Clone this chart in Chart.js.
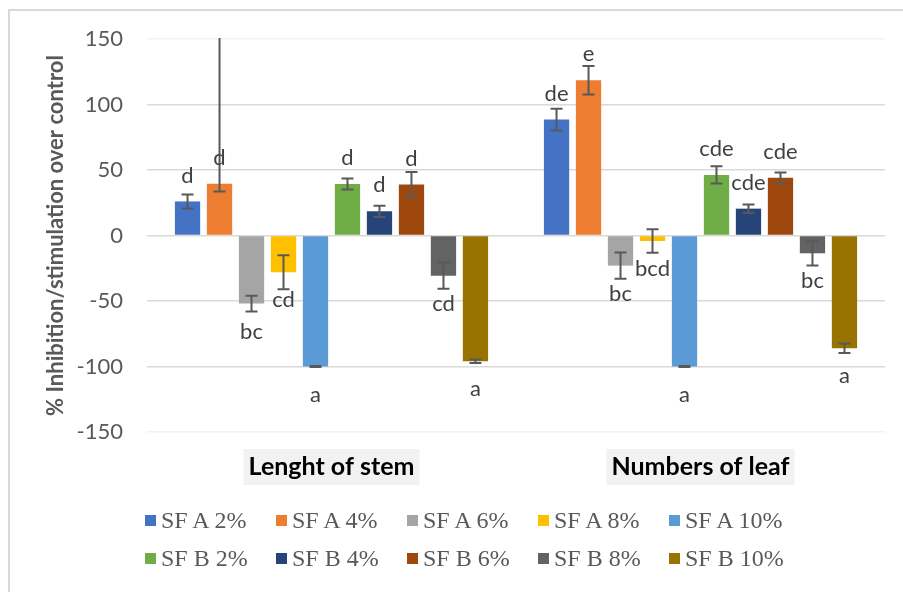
<!DOCTYPE html>
<html>
<head>
<meta charset="utf-8">
<script src="https://cdn.jsdelivr.net/npm/chart.js@4.4.0/dist/chart.umd.min.js"></script>
<style>
html,body{margin:0;padding:0;background:#fff;overflow:hidden;}
#wrap{position:relative;width:903px;height:592px;overflow:hidden;}
#frame{position:absolute;left:8px;top:9px;width:1000px;height:1000px;border:2px solid #d9d9d9;box-sizing:border-box;}
#c{position:absolute;left:0;top:0;}
#legend{position:absolute;left:0;top:0;width:903px;height:592px;font-family:"Liberation Serif",serif;font-size:24px;color:#595959;pointer-events:none;}
.item{position:absolute;display:flex;align-items:center;white-space:nowrap;height:28px;line-height:28px;}
.box{width:11px;height:11px;margin-right:5px;flex:none;}
</style>
</head>
<body>
<div id="wrap">
  <div id="frame"></div>
  <canvas id="c" width="903" height="592"></canvas>
  <div id="legend"></div>
</div>
<script>
// ---- data ----
const categories = ['Lenght of stem', 'Numbers of leaf'];
const seriesNames = ['SF A 2%', 'SF A 4%', 'SF A 6%', 'SF A 8%', 'SF A 10%',
                     'SF B 2%', 'SF B 4%', 'SF B 6%', 'SF B 8%', 'SF B 10%'];
const seriesColors = ['#4472C4', '#ED7D31', '#A5A5A5', '#FFC000', '#5B9BD5',
                      '#70AD47', '#264478', '#9E480E', '#636363', '#997300'];
const stemValues  = [26, 39.5, -52, -28, -100, 39.3, 18.5, 39, -30.7, -96];
const leafValues  = [88.5, 118.5, -23, -4.2, -100, 46.2, 20.5, 44, -13.6, -86];
const stemErrUp   = [5.3, 130, 6, 13, 0.3, 4.2, 4.3, 9.5, 10, 1.4];
const stemErrDown = [5.3, 6, 6, 13, 0.3, 4.2, 4.3, 9.5, 10, 1.4];
const leafErrUp   = [8.3, 10.8, 10, 9, 0.3, 6.6, 3.2, 4.1, 9.3, 3.6];
const leafErrDown = [8.3, 10.8, 10, 9, 0.3, 6.6, 3.2, 4.1, 9.3, 3.6];
const stemLetters = ['d', 'd', 'bc', 'cd', 'a', 'd', 'd', 'd', 'cd', 'a'];
const leafLetters = ['de', 'e', 'bc', 'bcd', 'a', 'cde', 'cde', 'cde', 'bc', 'a'];
const yTicks = [-150, -100, -50, 0, 50, 100, 150];

const datasets = seriesNames.map((name, i) => ({
  label: name,
  data: [stemValues[i], leafValues[i]],
  backgroundColor: seriesColors[i],
  borderWidth: 0,
  errUp: [stemErrUp[i], leafErrUp[i]],
  errDown: [stemErrDown[i], leafErrDown[i]],
  letters: [stemLetters[i], leafLetters[i]],
  categoryPercentage: 0.867,
  barPercentage: 0.79
}));

const errorBars = {
  id: 'errorBars',
  afterDatasetsDraw(chart) {
    const {ctx, chartArea} = chart;
    const y = chart.scales.y;
    ctx.save();
    ctx.beginPath();
    ctx.rect(chartArea.left, chartArea.top - 1, chartArea.right - chartArea.left, chartArea.bottom - chartArea.top + 2);
    ctx.clip();
    ctx.strokeStyle = '#595959';
    ctx.lineWidth = 2;
    chart.data.datasets.forEach((ds, i) => {
      const meta = chart.getDatasetMeta(i);
      meta.data.forEach((bar, j) => {
        const v = ds.data[j];
        const yHi = y.getPixelForValue(v + ds.errUp[j]);
        const yLo = y.getPixelForValue(v - ds.errDown[j]);
        const x = bar.x;
        const cap = 6;
        ctx.beginPath();
        ctx.moveTo(x, yHi); ctx.lineTo(x, yLo);
        ctx.moveTo(x - cap, yHi); ctx.lineTo(x + cap, yHi);
        ctx.moveTo(x - cap, yLo); ctx.lineTo(x + cap, yLo);
        ctx.stroke();
      });
    });
    ctx.restore();
  }
};

const letterLabels = {
  id: 'letterLabels',
  afterDatasetsDraw(chart) {
    const {ctx} = chart;
    ctx.save();
    ctx.font = '22px Lato';
    ctx.fillStyle = '#404040';
    ctx.textAlign = 'center';
    ctx.textBaseline = 'middle';
    chart.data.datasets.forEach((ds, i) => {
      const meta = chart.getDatasetMeta(i);
      meta.data.forEach((bar, j) => {
        const v = ds.data[j];
        const ty = v >= 0 ? bar.y - 26 : bar.y + 28;
        ctx.fillText(ds.letters[j], bar.x, ty);
      });
    });
    ctx.restore();
  }
};

const chart = new Chart(document.getElementById('c'), {
  type: 'bar',
  data: {labels: categories, datasets: datasets},
  plugins: [errorBars, letterLabels],
  options: {
    responsive: false,
    animation: false,
    layout: {padding: {top: 39, left: 0, right: 18, bottom: 80}},
    plugins: {legend: {display: false}, tooltip: {enabled: false}},
    scales: {
      x: {
        grid: {display: false, drawTicks: false},
        border: {display: false},
        ticks: {
          font: {family: 'Lato', size: 25, weight: 'bold'},
          color: '#000000',
          padding: 20,
          showLabelBackdrop: true,
          backdropColor: '#f2f2f2',
          backdropPadding: {left: 5, right: 5, top: 3, bottom: 3}
        },
        afterFit(s) { s.height = 80; }
      },
      y: {
        min: -150, max: 150,
        afterBuildTicks(s) { s.ticks = yTicks.map(v => ({value: v})); },
        ticks: {font: {family: 'Lato', size: 22}, color: '#595959', padding: 24},
        grid: {
          drawTicks: false,
          lineWidth: 1.5,
          color: c => (c.tick && Math.abs(c.tick.value) === 150) ? '#f2f2f2' : '#d9d9d9'
        },
        border: {display: false},
        title: {
          display: true,
          text: '% Inhibition/stimulation over control',
          font: {family: 'Lato', size: 22, weight: 'bold'},
          color: '#595959',
          padding: {top: 43, bottom: 0}
        },
        afterFit(s) { s.width = 147; }
      }
    }
  }
});

// HTML legend built from the chart's datasets
const legend = document.getElementById('legend');
chart.data.datasets.forEach((ds, i) => {
  const row = i < 5 ? 0 : 1, col = i % 5;
  const item = document.createElement('div');
  item.className = 'item';
  item.style.left = (145 + col * 131) + 'px';
  item.style.top = (506 + row * 38) + 'px';
  const box = document.createElement('span');
  box.className = 'box';
  box.style.background = ds.backgroundColor;
  const txt = document.createElement('span');
  txt.textContent = ds.label;
  item.appendChild(box); item.appendChild(txt);
  legend.appendChild(item);
});
</script>
</body>
</html>
